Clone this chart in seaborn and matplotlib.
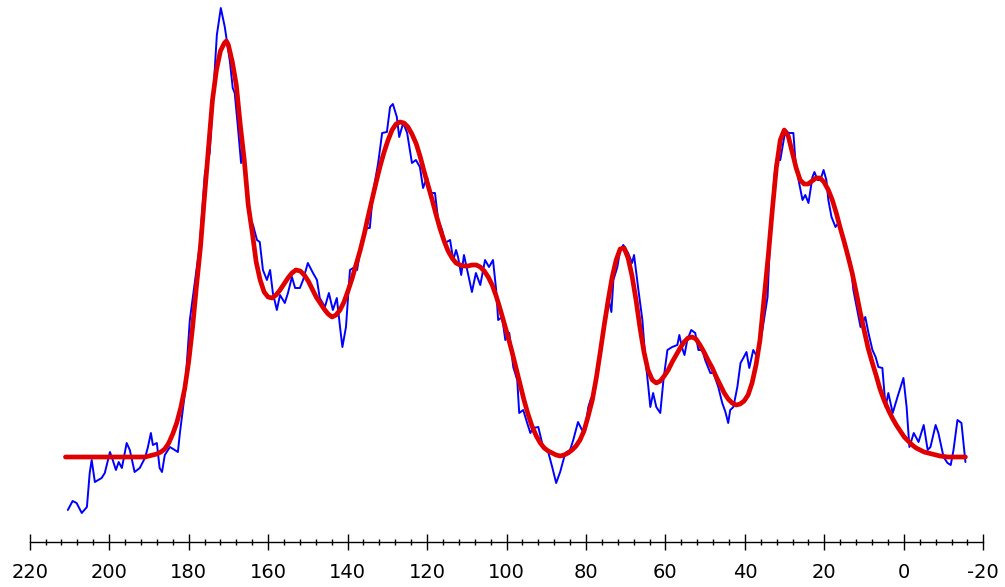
import matplotlib
matplotlib.use("Agg")
import matplotlib.pyplot as plt
import seaborn as sns
import pandas as pd
from matplotlib.ticker import MultipleLocator

# ---- data (chemical shift, ppm ; intensity, arbitrary units) ----
blue_ppm = [210.4, 209.2, 208.2, 206.9, 205.6, 204.9, 204.4, 203.6, 201.9, 201.1,
            199.8, 199.1, 198.3, 197.6, 196.8, 195.6, 194.8, 193.6, 192.3, 191.0,
            190.3, 189.5, 189.0, 188.0, 187.3, 186.7, 186.0, 184.7, 183.5, 182.7,
            182.2, 181.0, 179.7, 178.2, 177.2, 175.9, 174.7, 173.9, 172.9, 171.9,
            170.9, 169.6, 168.9, 168.4, 167.6, 166.8, 166.3, 165.3, 164.6, 163.8,
            162.8, 162.1, 161.3, 160.3, 159.5, 158.8, 157.8, 157.0, 155.8, 155.0,
            154.0, 153.2, 152.0, 151.2, 150.0, 148.7, 147.7, 147.0, 145.7, 144.7,
            143.7, 142.7, 141.9, 141.3, 140.4, 139.4, 138.6, 137.6, 136.4, 135.1,
            134.4, 133.6, 132.3, 131.3, 130.1, 129.3, 128.6, 127.6, 127.0, 126.0,
            125.0, 123.8, 122.8, 121.8, 121.0, 120.0, 119.2, 118.0, 117.2, 116.2,
            115.5, 114.2, 113.4, 112.7, 112.2, 111.4, 110.7, 109.9, 108.7, 107.7,
            106.6, 105.4, 104.4, 103.4, 102.6, 102.1, 101.1, 100.3, 99.3, 98.3,
            97.3, 96.8, 95.8, 94.8, 94.0, 93.3, 92.0, 90.8, 89.5, 88.5,
            87.5, 86.5, 85.2, 84.0, 83.2, 82.0, 81.0, 80.2, 79.4, 78.7,
            78.2, 77.2, 75.7, 75.2, 74.4, 73.6, 73.1, 72.1, 71.4, 70.6,
            69.4, 68.4, 67.9, 66.8, 65.8, 65.1, 64.3, 63.8, 63.1, 62.3,
            61.3, 60.5, 59.5, 58.3, 57.0, 56.5, 55.8, 55.2, 54.5, 53.5,
            52.5, 51.7, 50.7, 50.0, 48.7, 47.9, 46.7, 45.7, 44.9, 44.2,
            43.7, 42.9, 41.9, 41.1, 40.4, 39.6, 38.9, 37.9, 36.9, 35.6,
            34.3, 33.6, 32.6, 32.1, 31.1, 29.8, 29.0, 27.8, 27.3, 26.5,
            25.5, 24.8, 24.0, 23.0, 22.5, 21.7, 21.0, 20.2, 19.5, 19.0,
            18.2, 17.2, 16.5, 15.2, 13.4, 12.7, 11.4, 10.9, 9.7, 8.9,
            7.9, 7.1, 6.4, 5.4, 4.6, 3.9, 2.8, 1.6, 0.8, 0.1,
            -0.7, -1.4, -2.5, -3.7, -5.0, -6.0, -6.7, -8.0, -8.7, -10.0,
            -11.0, -11.8, -12.5, -13.5, -14.5, -15.5]
blue_int = [-53, -44, -46, -56, -50, -16, -3, -25, -21, -16,
            5, -3, -13, -5, -11, 14, 7, -15, -11, -1,
            9, 24, 12, 14, -11, -15, 2, 10, 7, 5,
            24, 62, 137, 182, 212, 284, 304, 357, 422, 449,
            430, 395, 369, 364, 330, 294, 310, 262, 239, 232,
            217, 215, 187, 177, 187, 164, 147, 162, 154, 164,
            180, 169, 169, 177, 194, 184, 177, 159, 150, 164,
            147, 159, 130, 110, 130, 187, 189, 187, 217, 229,
            229, 264, 294, 324, 325, 350, 353, 340, 320, 334,
            324, 294, 297, 290, 269, 280, 264, 264, 237, 227,
            214, 217, 197, 207, 200, 182, 202, 187, 165, 184,
            172, 197, 190, 197, 167, 137, 140, 117, 124, 90,
            77, 44, 47, 34, 24, 29, 30, 10, 5, -10,
            -26, -15, 4, 7, 17, 35, 27, 29, 50, 59,
            60, 84, 127, 140, 160, 145, 177, 190, 207, 212,
            204, 194, 202, 167, 137, 100, 70, 50, 64, 50,
            44, 77, 107, 110, 112, 122, 109, 102, 117, 127,
            124, 107, 107, 97, 84, 84, 70, 54, 45, 34,
            47, 50, 70, 94, 99, 105, 89, 107, 100, 127,
            160, 224, 280, 297, 297, 327, 324, 324, 297, 277,
            257, 262, 254, 280, 285, 277, 277, 287, 277, 257,
            240, 230, 234, 220, 194, 167, 140, 130, 140, 124,
            107, 100, 90, 89, 50, 64, 44, 60, 70, 79,
            50, 10, 24, 15, 32, 7, 10, 32, 24, 0,
            -6, -8, 7, 37, 34, -5]

fit_ppm = [211.0, 208.0, 204.0, 200.0, 196.0, 192.0, 191.0, 190.0, 189.0, 188.0,
           187.0, 186.0, 185.0, 184.0, 183.0, 182.0, 181.0, 180.0, 179.0, 178.0,
           177.0, 176.0, 175.0, 174.0, 173.0, 172.0, 171.0, 170.5, 170.0, 169.0,
           168.0, 167.0, 166.0, 165.0, 164.0, 163.0, 162.0, 161.0,
           160.0, 159.0, 158.0, 157.0, 156.0, 155.0, 154.0, 153.0, 151.9, 150.9,
           149.9, 148.9, 147.9, 146.9, 145.9, 144.9, 143.9, 142.9, 141.9, 140.9,
           139.9, 138.9, 137.9, 136.8, 135.8, 134.8, 133.8, 132.8, 131.8, 130.8,
           129.8, 128.8, 127.8, 126.8, 125.8, 124.8, 123.8, 122.7, 121.7, 120.7,
           119.7, 118.7, 117.7, 116.7, 115.7, 114.7, 113.7, 112.7, 111.7, 110.7,
           109.7, 108.7, 107.6, 106.6, 105.6, 104.6, 103.6, 102.6, 101.6, 100.6,
           99.6, 98.6, 97.6, 96.6, 95.6, 94.6, 93.6, 92.5, 91.5, 90.5,
           89.5, 88.5, 87.5, 86.5, 85.5, 84.5, 83.5, 82.5, 81.5, 80.5,
           79.5, 78.4, 77.4, 76.4, 75.4, 74.4, 73.4, 72.4, 71.4, 70.4,
           69.4, 68.4, 67.4, 66.4, 65.4, 64.4, 63.3, 62.3, 61.3, 60.3,
           59.3, 58.3, 57.3, 56.3, 55.3, 54.3, 53.3, 52.3, 51.3, 50.3,
           49.3, 48.2, 47.2, 46.2, 45.2, 44.2, 43.2, 42.2, 41.2, 40.2,
           39.2, 38.2, 37.2, 36.2, 35.2, 34.1, 33.1, 32.1, 31.1, 30.1,
           29.1, 28.1, 27.1, 26.1, 25.1, 24.1, 23.1, 22.1, 21.1, 20.1,
           19.0, 18.0, 17.0, 16.0, 15.0, 14.0, 13.0, 12.0, 11.0, 10.0,
           9.0, 8.0, 7.0, 6.0, 5.0, 3.9, 2.9, 1.9, 0.9, -0.1,
           -1.1, -2.1, -3.1, -4.1, -5.1, -7.1, -9.1, -11.1, -13.0, -15.5]
fit_int = [0, 0, 0, 0, 0, 0, 0, 1, 2, 3,
           5, 8, 14, 23, 34, 49, 68, 95, 130, 172,
           211, 261, 309, 357, 387, 406, 414, 416, 412, 395,
           372, 332, 297, 252, 225, 195, 177, 165,
           160, 159, 162, 167, 173, 179, 184, 187, 186, 182,
           176, 168, 160, 154, 148, 143, 140, 142, 147, 155,
           166, 178, 192, 207, 223, 241, 258, 275, 291, 305,
           317, 327, 333, 335, 334, 330, 323, 313, 300, 285,
           271, 257, 242, 228, 216, 206, 199, 194, 192, 191,
           191, 192, 192, 190, 186, 180, 172, 161, 148, 134,
           120, 105, 89, 73, 57, 43, 31, 21, 14, 9,
           6, 4, 2, 1, 2, 4, 7, 11, 17, 26,
           40, 57, 79, 105, 132, 157, 180, 197, 208, 209,
           199, 181, 157, 129, 105, 87, 77, 74, 76, 81,
           87, 95, 102, 109, 115, 119, 120, 118, 112, 105,
           97, 89, 80, 72, 64, 58, 54, 52, 53, 56,
           62, 74, 92, 117, 157, 202, 247, 289, 317, 327,
           321, 305, 289, 277, 273, 273, 276, 279, 279, 275,
           267, 257, 244, 229, 215, 200, 184, 165, 145, 127,
           109, 95, 82, 68, 57, 47, 39, 32, 26, 20,
           16, 12, 9, 7, 5, 3, 1, 0, 0, 0]

x_ticks = [220, 200, 180, 160, 140, 120, 100, 80, 60, 40, 20, 0, -20]

spec = pd.DataFrame({"ppm": blue_ppm, "intensity": blue_int})
fit = pd.DataFrame({"ppm": fit_ppm, "intensity": fit_int})

sns.set_style("white")
plt.rcParams["font.family"] = ["DejaVu Sans"]

fig = plt.figure(figsize=(10.05, 5.87), dpi=100)
ax = fig.add_axes([29.7 / 1005, 45.3 / 587, 953.6 / 1005, 541.7 / 587])

sns.lineplot(data=spec, x="ppm", y="intensity", sort=False, estimator=None,
             color="#0000ff", linewidth=1.4, ax=ax)
sns.lineplot(data=fit, x="ppm", y="intensity", sort=False, estimator=None,
             color="#e00000", linewidth=3.4, ax=ax,
             solid_capstyle="round", solid_joinstyle="round")

ax.set_xlim(220, -20)
ax.set_ylim(-84.7, 457)
ax.set_xticks(x_ticks)
ax.set_xticklabels([str(t) for t in x_ticks])
ax.xaxis.set_minor_locator(MultipleLocator(4))
ax.set_yticks([])
ax.set_xlabel("")
ax.set_ylabel("")
for side in ["left", "top", "right"]:
    ax.spines[side].set_visible(False)
ax.spines["bottom"].set_color("black")
ax.spines["bottom"].set_linewidth(1.0)
ax.tick_params(axis="x", which="major", direction="inout", length=11, width=1.0,
               color="black", labelsize=14, pad=9.5, labelcolor="black", bottom=True)
ax.tick_params(axis="x", which="minor", direction="inout", length=5, width=1.0,
               color="black", bottom=True)
ax.patch.set_alpha(0)

fig.savefig("out.png", dpi=100, facecolor="white")
